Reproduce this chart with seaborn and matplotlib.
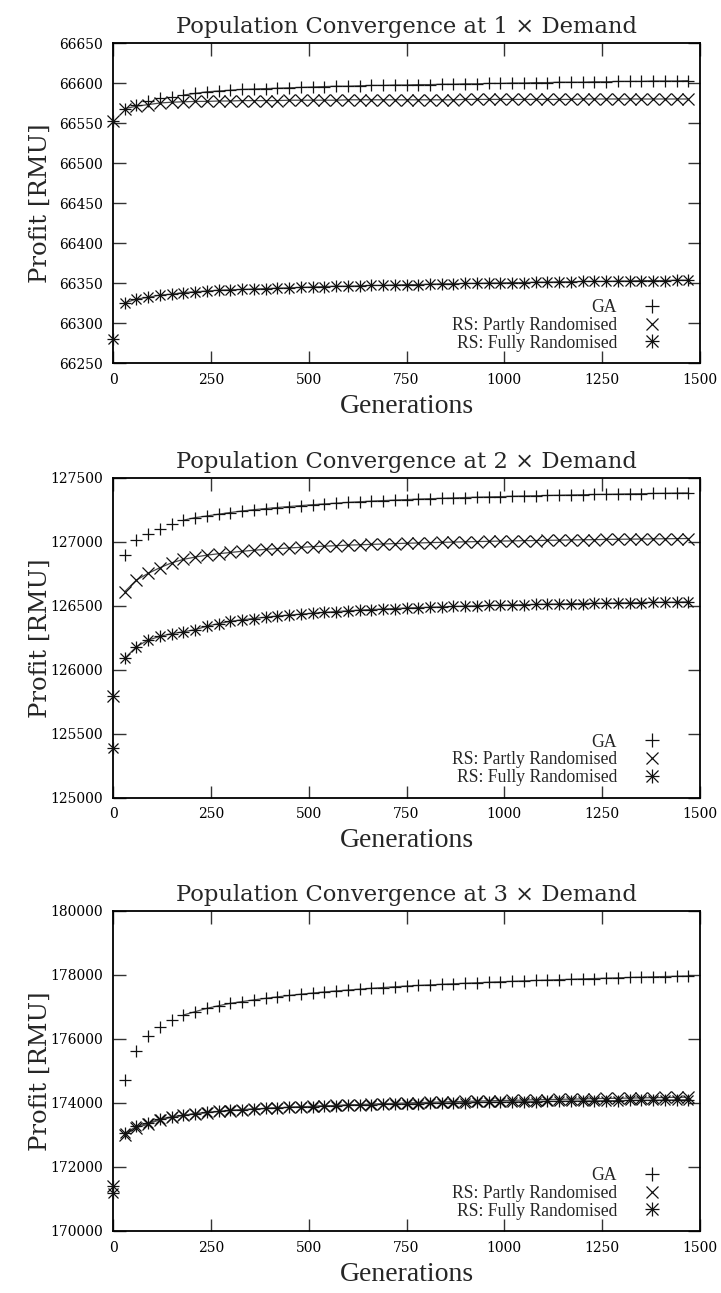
import numpy as np
import pandas as pd
import matplotlib
matplotlib.use("Agg")
import matplotlib.pyplot as plt
from matplotlib.lines import Line2D
from matplotlib.legend_handler import HandlerTuple
import seaborn as sns

# ---------------- data ----------------
generations = list(range(0, 1471, 30))

titles = ["Population Convergence at 1 \u00d7 Demand",
          "Population Convergence at 2 \u00d7 Demand",
          "Population Convergence at 3 \u00d7 Demand"]
series_labels = ["GA", "RS: Partly Randomised", "RS: Fully Randomised"]

ga_1x = [66553, 66568, 66572, 66577, 66581, 66583, 66585, 66587, 66589, 66590,
         66591, 66592, 66592.5, 66593, 66593.5, 66594, 66594.5, 66595, 66595.5, 66596,
         66596, 66596.5, 66597, 66597, 66597.5, 66597.5, 66598, 66598, 66598.5, 66598.5,
         66599, 66599, 66599.5, 66599.5, 66600, 66600, 66600.5, 66600.5, 66601, 66601,
         66601, 66601.5, 66601.5, 66602, 66602, 66602, 66602.5, 66602.5, 66602.5, 66603]
partly_1x = [66553, 66568, 66571, 66573, 66575, 66576, 66576.5, 66577, 66577, 66577.5,
             66577.5, 66578, 66578, 66578, 66578, 66578.5, 66578.5, 66578.5, 66578.5, 66578.5,
             66579, 66579, 66579, 66579, 66579, 66579, 66579, 66579, 66579, 66579,
             66579.5, 66579.5, 66579.5, 66579.5, 66579.5, 66579.5, 66579.5, 66579.5, 66579.5, 66579.5,
             66580, 66580, 66580, 66580, 66580, 66580, 66580, 66580, 66580, 66580]
fully_1x = [66280, 66325, 66330, 66332, 66335, 66336, 66338, 66339, 66340, 66341,
            66341.5, 66342, 66342.5, 66343, 66343.5, 66344, 66344.5, 66345, 66345.5, 66346,
            66346, 66346.5, 66347, 66347, 66347.5, 66348, 66348, 66348.5, 66349, 66349,
            66349.5, 66349.5, 66350, 66350, 66350.5, 66350.5, 66351, 66351, 66351.5, 66351.5,
            66352, 66352, 66352, 66352.5, 66352.5, 66353, 66353, 66353, 66353.5, 66353.5]

ga_2x = [125795, 126896, 127013, 127058, 127097, 127138, 127168, 127188, 127201, 127215,
         127228, 127240, 127250, 127259, 127267, 127275, 127282, 127289, 127295, 127301,
         127307, 127312, 127317, 127321, 127325, 127329, 127333, 127336, 127339, 127342,
         127345, 127348, 127350, 127352, 127355, 127357, 127359, 127361, 127363, 127365,
         127367, 127369, 127370, 127372, 127374, 127375, 127377, 127378, 127380, 127381]
partly_2x = [125795, 126610, 126701, 126753, 126797, 126835, 126862, 126880, 126895, 126906,
             126916, 126925, 126933, 126940, 126946, 126951, 126956, 126961, 126965, 126969,
             126973, 126976, 126979, 126982, 126985, 126988, 126990, 126993, 126995, 126997,
             126999, 127001, 127003, 127005, 127006, 127008, 127009, 127011, 127012, 127014,
             127015, 127016, 127018, 127019, 127020, 127021, 127022, 127023, 127024, 127025]
fully_2x = [125386, 126089, 126180, 126232, 126260, 126282, 126296, 126313, 126340, 126360,
            126378, 126390, 126400, 126410, 126419, 126427, 126434, 126441, 126448, 126454,
            126460, 126465, 126470, 126474, 126478, 126482, 126485, 126488, 126491, 126494,
            126497, 126499, 126502, 126504, 126506, 126508, 126510, 126512, 126514, 126516,
            126517, 126519, 126520, 126522, 126523, 126525, 126526, 126527, 126528, 126530]

ga_3x = [171400, 174719, 175635, 176104, 176385, 176594, 176750, 176854, 176958, 177040,
         177115, 177170, 177222, 177271, 177317, 177360, 177400, 177436, 177470, 177501,
         177530, 177557, 177583, 177608, 177632, 177656, 177674, 177692, 177709, 177726,
         177742, 177758, 177773, 177788, 177802, 177816, 177829, 177842, 177855, 177867,
         177879, 177890, 177901, 177912, 177923, 177933, 177943, 177953, 177962, 177971]
partly_3x = [171400, 173000, 173230, 173340, 173480, 173550, 173610, 173660, 173700, 173735,
             173765, 173790, 173812, 173832, 173850, 173867, 173882, 173896, 173910, 173925,
             173940, 173953, 173966, 173978, 173990, 174001, 174012, 174022, 174032, 174042,
             174051, 174060, 174069, 174077, 174085, 174093, 174101, 174108, 174115, 174122,
             174129, 174136, 174142, 174148, 174154, 174160, 174166, 174172, 174177, 174183]
fully_3x = [171200, 173050, 173270, 173370, 173500, 173570, 173620, 173670, 173705, 173738,
            173766, 173790, 173811, 173830, 173847, 173863, 173877, 173890, 173903, 173915,
            173926, 173937, 173947, 173956, 173965, 173973, 173981, 173989, 173996, 174003,
            174010, 174016, 174022, 174028, 174034, 174039, 174044, 174049, 174054, 174059,
            174063, 174068, 174072, 174076, 174080, 174084, 174088, 174092, 174096, 174100]

y_ranges = [(66250, 66650, 50), (125000, 127500, 500), (170000, 180000, 2000)]
x_ticks = [0, 250, 500, 750, 1000, 1250, 1500]

panels = [(ga_1x, partly_1x, fully_1x),
          (ga_2x, partly_2x, fully_2x),
          (ga_3x, partly_3x, fully_3x)]

# ---------------- style ----------------
sns.set_theme(style="ticks")
plt.rcParams["font.family"] = ["DejaVu Serif"]
plt.rcParams.update({
    "axes.linewidth": 1.3,
    "axes.edgecolor": "black",
    "xtick.direction": "in",
    "ytick.direction": "in",
    "xtick.major.size": 9,
    "ytick.major.size": 9,
    "xtick.major.width": 1.0,
    "ytick.major.width": 1.0,
    "xtick.top": True,
    "ytick.right": True,
    "xtick.color": "#333333",
    "ytick.color": "#333333",
    "xtick.labelcolor": "black",
    "ytick.labelcolor": "black",
})

W, H = 721, 1293
fig = plt.figure(figsize=(W / 100, H / 100), dpi=100)

left_px, right_px = 113, 700
tops_px = [43, 477.7, 911]
ax_h_px = 320

line_col = "#4a4a4a"
mk_col = "#111111"
ms = 8.5
mew = 0.9
# first index from which the connecting curve is drawn (GA, partly, fully)
line_start = (6, 1, 1)


def markers(ax, df, col, marker, size):
    sns.lineplot(data=df, x="gen", y=col, ax=ax, linestyle="none",
                 marker=marker, markersize=size, markeredgewidth=mew,
                 markeredgecolor=mk_col, markerfacecolor=mk_col, color=mk_col,
                 errorbar=None, legend=False, clip_on=False, zorder=3)


for i, (ga, partly, fully) in enumerate(panels):
    top = tops_px[i]
    ax = fig.add_axes([left_px / W, 1 - (top + ax_h_px) / H,
                       (right_px - left_px) / W, ax_h_px / H])
    df = pd.DataFrame({"gen": generations, "ga": ga, "partly": partly, "fully": fully})

    for col, st in zip(["ga", "partly", "fully"], line_start):
        sub = df.iloc[st:]
        sns.lineplot(data=sub, x="gen", y=col, ax=ax, color=line_col, lw=0.9,
                     errorbar=None, legend=False)

    markers(ax, df, "fully", "+", ms)
    markers(ax, df, "fully", "x", ms * 0.9)
    markers(ax, df, "partly", "x", ms)
    markers(ax, df, "ga", "+", ms * 1.1)

    y0, y1, dy = y_ranges[i]
    ax.set_xlim(0, 1500)
    ax.set_ylim(y0, y1)
    ax.set_xticks(x_ticks)
    ax.set_yticks(np.arange(y0, y1 + dy / 2, dy))
    ax.tick_params(axis="both", labelsize=10, pad=7)
    for sp in ax.spines.values():
        sp.set_visible(True)
        sp.set_color("black")

    ax.set_title(titles[i], fontsize=16.3, pad=7, family="DejaVu Serif")
    ax.set_xlabel("Generations", fontsize=20, family="Liberation Serif", labelpad=5)
    ax.set_ylabel("Profit [RMU]", fontsize=17.5, family="DejaVu Serif")
    ax.yaxis.set_label_coords(-0.105, 0.5)

    lms = 9.5
    h_ga = Line2D([], [], linestyle="none", marker="+", color=mk_col, markersize=lms, markeredgewidth=mew)
    h_pa = Line2D([], [], linestyle="none", marker="x", color=mk_col, markersize=lms * 0.85, markeredgewidth=mew)
    h_f1 = Line2D([], [], linestyle="none", marker="+", color=mk_col, markersize=lms, markeredgewidth=mew)
    h_f2 = Line2D([], [], linestyle="none", marker="x", color=mk_col, markersize=lms * 0.85, markeredgewidth=mew)
    ax.legend([h_ga, h_pa, (h_f1, h_f2)], series_labels,
              handler_map={tuple: HandlerTuple(ndivide=1, pad=0)},
              loc="lower right", bbox_to_anchor=(1 - 22 / 587, 0.008),
              frameon=False, markerfirst=False, borderpad=0,
              handlelength=2.0, handletextpad=0.95, labelspacing=0.05,
              prop={"family": "Liberation Serif", "size": 12.7})

fig.savefig("out.png", dpi=100)
